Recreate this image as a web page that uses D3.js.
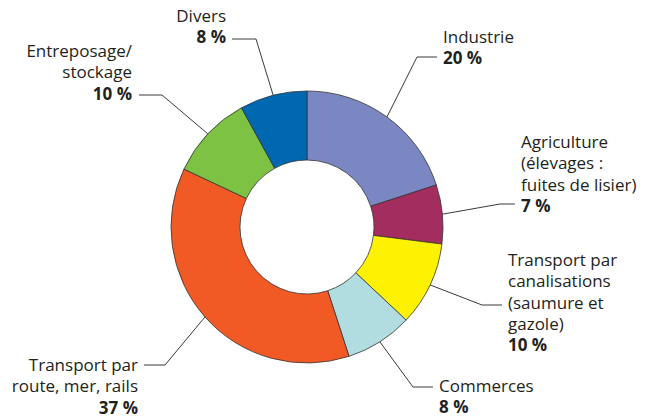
<!DOCTYPE html>
<html>
<head>
<meta charset="utf-8">
<script src="https://cdn.jsdelivr.net/npm/d3@7"></script>
<style>
  body { margin: 0; background: #fff; }
  svg text { font-family: "Open Sans", "DejaVu Sans", sans-serif; font-size: 17px; fill: #231f20; }
</style>
</head>
<body>
<div id="chart"></div>
<script>
// categories, starting at 12 o'clock, clockwise
var categories = ["Industrie", "Agriculture", "Canalisations", "Commerces", "Route", "Entreposage", "Divers"];
var values = [20, 7, 10, 8, 37, 10, 8];
var labels = [
    ["Industrie"],
    ["Agriculture", "(élevages :", "fuites de lisier)"],
    ["Transport par", "canalisations", "(saumure et", "gazole)"],
    ["Commerces"],
    ["Transport par", "route, mer, rails"],
    ["Entreposage/", "stockage"],
    ["Divers"]
];
var colors = ["#7b87c3", "#a22d5e", "#fff200", "#b1dde1", "#f15a24", "#7dc242", "#0067b1"];

// label layout: elbow point, end of leader, text anchor, first baseline
var layout = [
    {elbow: [417, 57], end: [437, 57], tx: 443, ty: 43, anchor: "start"},
    {elbow: [500, 204], end: [515, 204], tx: 521, ty: 148, anchor: "start"},
    {elbow: [482, 305], end: [502, 305], tx: 508, ty: 266, anchor: "start"},
    {elbow: [413, 387], end: [433, 387], tx: 439, ty: 392, anchor: "start"},
    {elbow: [165, 365], end: [144, 365], tx: 138, ty: 371, anchor: "end"},
    {elbow: [162, 95], end: [139, 95], tx: 132, ty: 57, anchor: "end"},
    {elbow: [256, 39], end: [232, 39], tx: 226, ty: 22, anchor: "end"}
];

var width = 656, height = 419;
var cx = 307, cy = 227, rOut = 136, rIn = 67, lh = 21.3;

var svg = d3.select("#chart").append("svg").attr("width", width).attr("height", height);
var g = svg.append("g").attr("transform", "translate(" + cx + "," + cy + ")");

var pie = d3.pie().sort(null).value(function(d){ return d; });
var arcs = pie(values);
var arc = d3.arc().innerRadius(rIn).outerRadius(rOut);

g.selectAll("path.slice")
    .data(arcs)
    .enter().append("path")
    .attr("class", "slice")
    .attr("d", arc)
    .style("fill", function(d, i){ return colors[i]; })
    .style("stroke", "#333")
    .style("stroke-width", 0.8);

// leaders
for (var i = 0; i < arcs.length; i++) {
    var a = (arcs[i].startAngle + arcs[i].endAngle) / 2;
    var px = cx + rOut * Math.sin(a);
    var py = cy - rOut * Math.cos(a);
    var L = layout[i];
    svg.append("polyline")
        .attr("points", [[px, py], L.elbow, L.end].map(function(p){ return p.join(","); }).join(" "))
        .style("fill", "none")
        .style("stroke", "#3a3a3a")
        .style("stroke-width", 1);

    var t = svg.append("text")
        .attr("x", L.tx)
        .attr("y", L.ty)
        .attr("text-anchor", L.anchor);
    for (var k = 0; k < labels[i].length; k++) {
        t.append("tspan").attr("x", L.tx).attr("y", L.ty + k * lh).text(labels[i][k]);
    }
    t.append("tspan").attr("x", L.tx).attr("y", L.ty + labels[i].length * lh)
        .style("font-weight", "bold")
        .text(values[i] + " %");
}
</script>
</body>
</html>
